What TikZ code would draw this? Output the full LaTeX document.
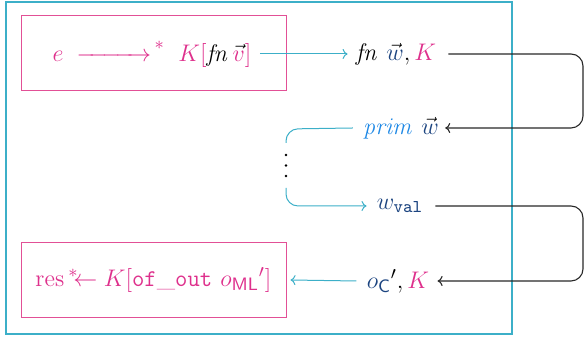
\documentclass[tikz,border=0pt]{standalone}
\usepackage{amsmath}
\usetikzlibrary{arrows.meta}
\definecolor{pinkc}{RGB}{222,48,140}
\definecolor{boxpink}{RGB}{226,80,150}
\definecolor{cyanc}{RGB}{60,175,200}
\definecolor{navyc}{RGB}{28,68,128}
\definecolor{primc}{RGB}{30,136,229}
\definecolor{darkc}{RGB}{40,40,40}
\begin{document}
\begin{tikzpicture}[x=0.5pt,y=-0.5pt,
  every node/.style={font=\fontsize{12.5}{14}\selectfont, inner sep=1pt},
  pinkbox/.style={draw=boxpink, line width=0.5pt, minimum width=132.5pt, minimum height=37.5pt, inner sep=0pt},
  cyanarrow/.style={draw=cyanc, line width=0.5pt, -{To[length=2.5pt,width=5pt]}},
  cyanline/.style={draw=cyanc, line width=0.5pt},
  blackarrow/.style={draw=darkc, line width=0.55pt, rounded corners=6pt, -{To[length=2.5pt,width=5pt]}},
  lbl/.style={inner sep=1pt}
]
\useasboundingbox (0,0) rectangle (584,340);
% outer frame
\node[draw=cyanc, line width=0.6pt, minimum width=253pt, minimum height=166pt, inner sep=0pt] (frame) at (259,168) {};
% pink boxes
\node[pinkbox] (box1) at (153.5,53.5) {};
\node[lbl] (t1) at (152,54) {$\color{pinkc} e\;\xrightarrow{\hspace{2.4em}}{}^{\!\raisebox{1.5pt}{$\scriptstyle *$}}\;\; K[{\color{black}\mathit{fn}}\,{\color{black}\vec{\color{pinkc}v}}]$};
\node[pinkbox] (box2) at (153.5,280) {$\color{pinkc}\mathrm{res}\,{}^{*}\!\!\!\leftarrow K[\mathtt{of\_out}\ o_{\mathsf{ML}}{}']$};
% right column
\node[lbl] (fn) at (396,54) {$\mathit{fn}\ \vec{\color{navyc}w}, {\color{pinkc}K}$};
\node[lbl] (prim) at (401,128) {${\color{primc}\mathit{prim}}\ \vec{\color{navyc}w}$};
\node[lbl] (wval) at (400,206) {$\color{navyc} w_{\mathtt{val}}$};
\node[lbl] (oc) at (398,281) {${\color{navyc}o_{\mathsf{C}}}', {\color{pinkc}K}$};
% connectors
\draw[cyanarrow] (t1.east) ++(6,0) -- ([xshift=-3pt]fn.west);
\draw[blackarrow] ([xshift=5pt]fn.east) -- (583,54) -- (583,128) -- ([xshift=2pt]prim.east);
\coordinate (dtop) at (286,143);
\coordinate (dbot) at (286,188);
\draw[cyanline, rounded corners=6pt] ([xshift=-4pt]prim.west) -- (286,129) -- (dtop);
\draw[cyanarrow, rounded corners=6pt] (dbot) -- (286,206) -- ([xshift=-4pt]wval.west);
\fill (286,155) circle (1.3);
\fill (286,165.5) circle (1.3);
\fill (286,176) circle (1.3);
\draw[blackarrow] ([xshift=5pt]wval.east) -- (583,206) -- (583,281) -- ([xshift=3pt]oc.east);
\draw[cyanarrow] ([xshift=-4pt]oc.west) -- ([xshift=2pt]box2.east);
\end{tikzpicture}
\end{document}
